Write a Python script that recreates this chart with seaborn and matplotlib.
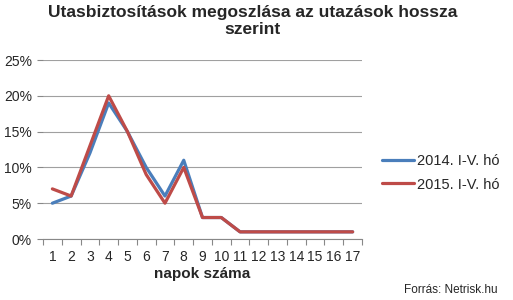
import matplotlib
matplotlib.use("Agg")
import matplotlib.pyplot as plt
import seaborn as sns
import pandas as pd
from matplotlib.ticker import FuncFormatter, FixedLocator

days = list(range(1, 18))
s2014 = [5, 6, 12, 19, 15, 10, 6, 11, 3, 3, 1, 1, 1, 1, 1, 1, 1]
s2015 = [7, 6, 13, 20, 15, 9, 5, 10, 3, 3, 1, 1, 1, 1, 1, 1, 1]
series_names = ["2014. I-V. hó", "2015. I-V. hó"]
title = "Utasbiztosítások megoszlása az utazások hossza\nszerint"
xlabel = "napok száma"
source = "Forrás: Netrisk.hu"

df = pd.DataFrame({
    "nap": days * 2,
    "arany": s2014 + s2015,
    "sorozat": [series_names[0]] * len(days) + [series_names[1]] * len(days),
})

sns.set_style("white")
plt.rcParams["font.family"] = ["Liberation Sans", "DejaVu Sans"]

fig = plt.figure(figsize=(5.13, 3.0), dpi=100)
ax = fig.add_axes([0.0838, 0.2033, 0.7057 - 0.0838, 0.8 - 0.2033])

sns.lineplot(data=df, x="nap", y="arany", hue="sorozat",
             palette=["#4A7EBB", "#BE4B48"], linewidth=2.3, ax=ax)

ax.set_xlim(0.5, 17.5)
ax.set_ylim(0, 25)
ax.set_yticks([0, 5, 10, 15, 20, 25])
ax.yaxis.set_major_formatter(FuncFormatter(lambda v, p: f"{int(v)}%"))
ax.set_xticks(days)
ax.set_xticklabels([str(d) for d in days])
ax.xaxis.set_minor_locator(FixedLocator([d + 0.5 for d in range(0, 18)]))
ax.tick_params(axis="x", which="major", length=0, pad=8, labelsize=10)
ax.tick_params(axis="x", which="minor", length=4, width=0.8, color="#888888", direction="out", bottom=True)
ax.tick_params(axis="y", which="major", length=4, width=0.8, color="#888888", direction="out", left=True, labelsize=10, pad=4)
ax.grid(axis="y", color="#A0A0A0", linewidth=0.8)
for s in ["top", "right", "left"]:
    ax.spines[s].set_visible(False)
ax.spines["bottom"].set_color("#888888")
ax.spines["bottom"].set_linewidth(0.8)

ax.set_xlabel(xlabel, fontsize=11, fontweight="bold", labelpad=2)
ax.set_ylabel("")

leg = ax.legend(loc="center left", bbox_to_anchor=(1.02, 0.37), frameon=False,
                fontsize=10.5, handlelength=2.2, handletextpad=0.2, labelspacing=0.65)

fig.text(0.492, 0.985, title, ha="center", va="top", fontsize=12.5, fontweight="bold", linespacing=1.25)
fig.text(0.97, 0.012, source, ha="right", va="bottom", fontsize=8.5)

fig.savefig("out.png", dpi=100)
